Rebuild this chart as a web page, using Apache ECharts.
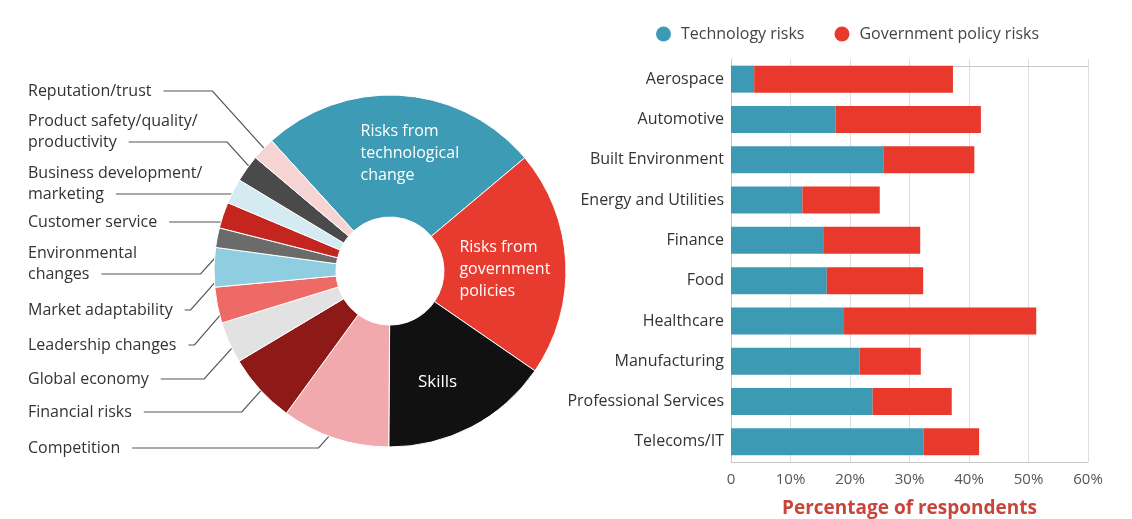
<!DOCTYPE html>
<html>
<head>
<meta charset="utf-8">
<script src="https://cdn.jsdelivr.net/npm/echarts@6/dist/echarts.min.js"></script>
<style>
  html, body { margin: 0; padding: 0; background: #fff; }
  #chart { width: 1132px; height: 519px; }
</style>
</head>
<body>
<div id="chart"></div>
<script>
// ---- Donut: business risks named by respondents (clockwise from the top) ----
const riskNames = [
  'Risks from\ntechnological\nchange',
  'Risks from\ngovernment\npolicies',
  'Skills',
  'Competition',
  'Financial risks',
  'Global economy',
  'Leadership changes',
  'Market adaptability',
  'Environmental\nchanges',
  'Customer service',
  'Business development/\nmarketing',
  'Product safety/quality/\nproductivity',
  'Reputation/trust'
];
const riskShares = [25.6, 20.7, 15.5, 9.9, 6.4, 3.8, 3.3, 3.6, 1.8, 2.4, 2.3, 2.5, 2.1];
const riskColors = [
  '#3d9bb5', '#e63b2e', '#111111', '#f2a9ad', '#8d1a17', '#e2e2e2', '#ee6a66',
  '#8fcde0', '#6b6b6b', '#c5251f', '#d4ebf2', '#4a4a4a', '#f6d4d4'
];

// ---- Stacked bars: percentage of respondents by sector ----
const sectors = [
  'Aerospace', 'Automotive', 'Built Environment', 'Energy and Utilities', 'Finance',
  'Food', 'Healthcare', 'Manufacturing', 'Professional Services', 'Telecoms/IT'
];
const techRisks = [3.9, 17.6, 25.6, 12.0, 15.5, 16.1, 19.0, 21.6, 23.8, 32.4];
const govRisks  = [33.4, 24.4, 15.3, 13.0, 16.3, 16.2, 32.3, 10.3, 13.3, 9.3];
const xTicks = [0, 10, 20, 30, 40, 50, 60];

// ---- layout ----
const FONT = 'Open Sans';
const PIE_CX = 390, PIE_CY = 271, PIE_R0 = 54, PIE_R = 176;
const INSIDE_COUNT = 3;          // first three slices carry their label inside
const insideShift = [[12, 0], [-3, 4], [-7, 7]];
const LABEL_X = 28;              // left edge of the outside label column
const LABEL_FS = 16, LABEL_LH = 21;
// row (last text line) of each outside label, where its leader line starts
const labelRowY = [null, null, null, 448, 412, 379, 345, 310, 274, 222, 194, 142, 91];

const measureCtx = document.createElement('canvas').getContext('2d');
measureCtx.font = LABEL_FS + 'px "' + FONT + '"';
function textWidth(s) { return measureCtx.measureText(s).width; }

const pieData = riskNames.map(function (name, i) {
  const item = { name: name, value: riskShares[i], itemStyle: { color: riskColors[i] } };
  if (i < INSIDE_COUNT) {
    item.label = {
      position: 'inside', color: '#fff',
      fontSize: i === 2 ? 17 : 16, lineHeight: 22
    };
    item.labelLine = { show: false };
  }
  return item;
});

const chart = echarts.init(document.getElementById('chart'));
chart.setOption({
  animation: false,
  textStyle: { fontFamily: FONT },
  legend: {
    data: ['Technology risks', 'Government policy risks'],
    left: 651, top: 21,
    icon: 'circle', itemWidth: 15, itemHeight: 15, itemGap: 30,
    textStyle: { fontSize: 16, color: '#444', padding: [0, 0, 0, 5] }
  },
  grid: { left: 731, right: 44, top: 59, bottom: 57, outerBoundsMode: 'none', containLabel: false },
  xAxis: [{
    type: 'value', min: xTicks[0], max: xTicks[xTicks.length - 1], interval: 10,
    axisLine: { show: true, lineStyle: { color: '#c8c8c8' } },
    axisTick: { show: false },
    axisLabel: {
      color: '#555', fontSize: 15, margin: 10,
      formatter: function (v) { return v === 0 ? '0' : v + '%'; }
    },
    splitLine: { show: true, lineStyle: { color: '#dedede' } },
    name: 'Percentage of respondents', nameLocation: 'middle', nameGap: 37,
    nameTextStyle: { color: '#c9453a', fontSize: 19, fontWeight: 'bold' }
  }, {
    // thin frame line along the top of the bar panel
    type: 'value', position: 'top', offset: -7,
    min: xTicks[0], max: xTicks[xTicks.length - 1],
    axisLine: { show: true, lineStyle: { color: '#c8c8c8' } },
    axisTick: { show: false }, axisLabel: { show: false }, splitLine: { show: false }
  }],
  yAxis: {
    type: 'category', data: sectors, inverse: true,
    axisLine: { show: true, lineStyle: { color: '#c8c8c8' } },
    axisTick: { show: false },
    axisLabel: { color: '#333', fontSize: 16, margin: 7 }
  },
  series: [{
    type: 'pie',
    center: [PIE_CX, PIE_CY],
    radius: [PIE_R0, PIE_R],
    startAngle: 132.3,
    clockwise: true,
    avoidLabelOverlap: false,
    itemStyle: { borderColor: '#fff', borderWidth: 1 },
    label: { show: true, color: '#333', fontSize: LABEL_FS, lineHeight: LABEL_LH },
    labelLine: { show: true, lineStyle: { color: '#555', width: 1.2 } },
    labelLayout: function (params) {
      const i = params.dataIndex;
      const r = params.labelRect;
      if (i < INSIDE_COUNT) {
        return {
          x: r.x + insideShift[i][0], y: r.y + r.height / 2 + insideShift[i][1],
          align: 'left', verticalAlign: 'middle'
        };
      }
      const rowY = labelRowY[i];
      const lines = params.text.split('\n');
      const endX = LABEL_X + textWidth(lines[lines.length - 1]) + 12;
      const p0 = params.labelLinePoints[0];
      // end the leader a little inside the slice
      const t = 14 / PIE_R;
      const tx = p0[0] + (PIE_CX - p0[0]) * t;
      const ty = p0[1] + (PIE_CY - p0[1]) * t;
      const bendX = Math.max(endX + 6, tx - Math.abs(ty - rowY) * 0.9);
      return {
        x: LABEL_X, y: rowY + LABEL_LH / 2,
        align: 'left', verticalAlign: 'bottom',
        labelLinePoints: [[tx, ty], [bendX, rowY], [endX, rowY]]
      };
    },
    data: pieData
  }, {
    name: 'Technology risks', type: 'bar', stack: 'risk',
    barWidth: 27, itemStyle: { color: '#3c9ab5' },
    data: techRisks
  }, {
    name: 'Government policy risks', type: 'bar', stack: 'risk',
    barWidth: 27, itemStyle: { color: '#e8392c' },
    data: govRisks
  }]
});
</script>
</body>
</html>
